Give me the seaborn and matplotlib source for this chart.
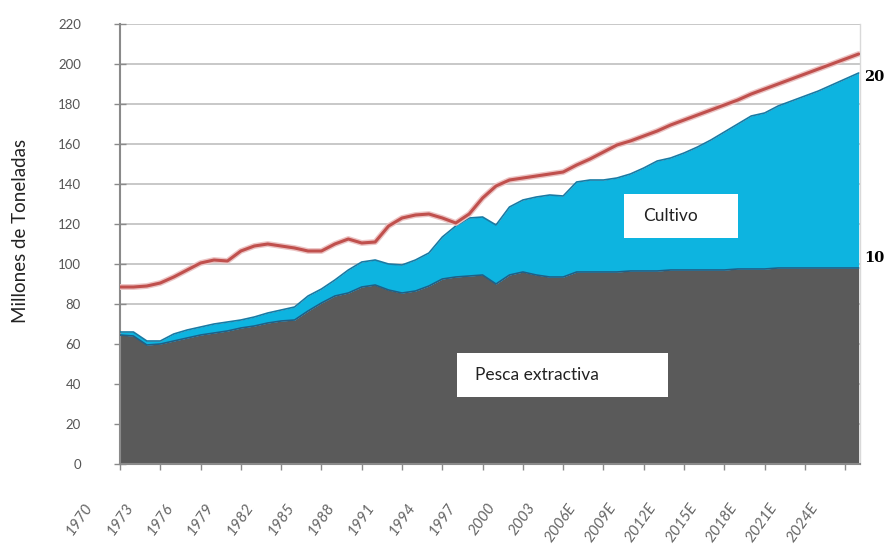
import matplotlib
matplotlib.use("Agg")
import matplotlib.pyplot as plt
import matplotlib.transforms as mtransforms
import matplotlib.patheffects as pe
from matplotlib.patches import Rectangle
import seaborn as sns
import pandas as pd

# ---------------- data ----------------
years = list(range(1970, 2026))

pesca_extractiva = [64.5, 64, 59.5, 60, 61.5, 63, 64.5, 65.5, 66.5, 68,
                    69, 70.5, 71.5, 72, 76.5, 80.5, 84, 85.5, 88.5, 89.5,
                    87, 85.5, 86.5, 89, 92.5, 93.5, 94, 94.5, 90, 94.5,
                    96, 94.5, 93.5, 93.5, 96, 96, 96, 96, 96.5, 96.5,
                    96.5, 97, 97, 97, 97, 97, 97.5, 97.5, 97.5, 98,
                    98, 98, 98, 98, 98, 98]

cultivo = [1.5, 2, 2, 1.5, 3.5, 4, 4, 4.5, 4.5, 4,
           4.5, 5, 5.5, 6.5, 7.5, 7, 8, 11.5, 12.5, 12.5,
           13, 14, 15.5, 16.5, 21, 25.5, 29, 29, 29.5, 34,
           36, 39, 41, 40.5, 45, 46, 46, 47, 48.5, 51.5,
           55, 56, 58.5, 61.5, 65, 69, 72.5, 76.5, 78, 81,
           83.5, 86, 88.5, 91.5, 94.5, 97.5]

total_linea = [88.5, 88.5, 89, 90.5, 93.5, 97, 100.5, 102, 101.5, 106.5,
               109, 110, 109, 108, 106.5, 106.5, 110, 112.5, 110.5, 111,
               119, 123, 124.5, 125, 123, 120.5, 125, 133, 139, 142,
               143, 144, 145, 146, 149.5, 152.5, 156, 159.5, 161.5, 164,
               166.5, 169.5, 172, 174.5, 177, 179.5, 182, 185, 187.5, 190,
               192.5, 195, 197.5, 200, 202.5, 205]

tick_years = list(range(1970, 2025, 3))
tick_labels = ["1970", "1973", "1976", "1979", "1982", "1985", "1988", "1991",
               "1994", "1997", "2000", "2003", "2006E", "2009E", "2012E",
               "2015E", "2018E", "2021E", "2024E"]

y_ticks = list(range(0, 221, 20))

df = pd.DataFrame({"year": years, "pesca": pesca_extractiva,
                   "cultivo": cultivo, "total": total_linea})
df["stack_top"] = df["pesca"] + df["cultivo"]

# ---------------- style ----------------
sns.set_theme(style="white")
plt.rcParams["font.family"] = ["Lato", "DejaVu Sans"]

GREY = "#5a5a5a"
BLUE = "#0db4e0"
RED = "#c0504d"

fig = plt.figure(figsize=(8.85, 5.45), dpi=100)
ax = fig.add_axes([120 / 885, 1 - 464 / 545, 740 / 885, 440 / 545])

# stacked areas
ax.fill_between(df["year"], 0, df["pesca"], color=GREY, lw=0, zorder=2)
ax.fill_between(df["year"], df["pesca"], df["stack_top"], color=BLUE, lw=0, zorder=2)
ax.plot(df["year"], df["pesca"], color="#1f5f86", lw=1.2, zorder=3)
ax.plot(df["year"], df["stack_top"], color="#1a7aa3", lw=1.2, zorder=3)

# total line
sns.lineplot(data=df, x="year", y="total", color=RED, lw=2.2, ax=ax, zorder=4,
             path_effects=[pe.withStroke(linewidth=4.2, foreground="#ecc4c4")])

ax.set_xlim(1970, 2025.1)
ax.set_ylim(0, 220)
ax.set_yticks(y_ticks)
ax.set_yticklabels([str(v) for v in y_ticks])
ax.set_xticks(tick_years)
ax.set_xticklabels([])
ax.set_xlabel("")
ax.set_ylabel("")

ax.yaxis.grid(True, color="#c4c4c4", lw=1.3, zorder=0)
ax.set_axisbelow(True)

ax.spines["top"].set_visible(False)
ax.spines["right"].set_color("#d9d9d9")
ax.spines["right"].set_linewidth(1.0)
ax.spines["left"].set_color("#8a8a8a")
ax.spines["left"].set_linewidth(1.5)
ax.spines["bottom"].set_color("#8a8a8a")
ax.spines["bottom"].set_linewidth(1.5)

ax.tick_params(axis="y", direction="inout", length=8, width=1, color="#8a8a8a",
               labelsize=9.5, labelcolor="#555555", pad=24, left=True)
ax.tick_params(axis="x", direction="out", length=4, width=1, color="#8a8a8a",
               bottom=True)

# rotated x labels, anchored left of and below each tick
base = mtransforms.blended_transform_factory(ax.transData, ax.transAxes)
shift = mtransforms.ScaledTranslation(-36 / 100, -37 / 100, fig.dpi_scale_trans)
for yr, lab in zip(tick_years, tick_labels):
    ax.text(yr, 0, lab, transform=base + shift, rotation=55,
            rotation_mode="anchor", ha="right", va="top", fontsize=11,
            style="italic", color="#666666", clip_on=False)

# annotation boxes
ax.add_patch(Rectangle((0.681, 0.514), 0.154, 0.10, transform=ax.transAxes,
                       facecolor="white", edgecolor="none", zorder=5))
ax.text(0.707, 0.564, "Cultivo", transform=ax.transAxes, ha="left", va="center",
        fontsize=12.5, color="#222222", zorder=6)
ax.add_patch(Rectangle((0.455, 0.152), 0.285, 0.10, transform=ax.transAxes,
                       facecolor="white", edgecolor="none", zorder=5))
ax.text(0.480, 0.202, "Pesca extractiva", transform=ax.transAxes, ha="left",
        va="center", fontsize=12.5, color="#222222", zorder=6)

# y label
fig.text(21 / 885, 1 - 231 / 545, "Millones de Toneladas", rotation=90,
         ha="center", va="center", fontsize=13.5, color="#222222")

# right-hand labels
fig.text(864 / 885, 1 - 77 / 545, "20", ha="left", va="center",
         fontsize=10.5, fontweight="bold", color="black", family="DejaVu Serif")
fig.text(864 / 885, 1 - 258 / 545, "10", ha="left", va="center",
         fontsize=10.5, fontweight="bold", color="black", family="DejaVu Serif")

fig.savefig("out.png", dpi=100)
